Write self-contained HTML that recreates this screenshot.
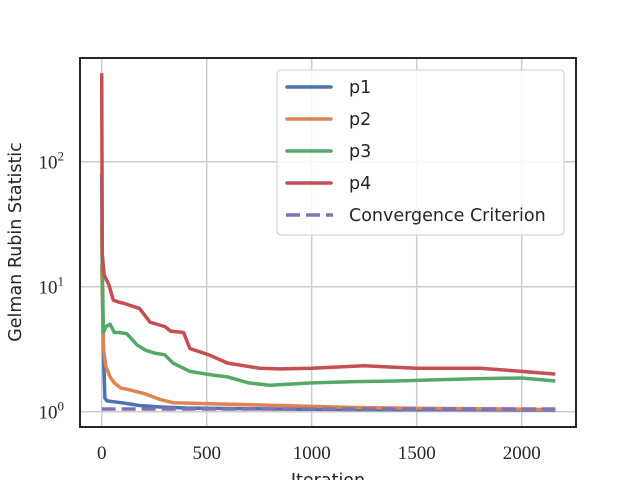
<!DOCTYPE html>
<html><head><meta charset="utf-8"><style>
body{margin:0;background:#fff;}
svg{display:block;}
.tick{font-family:"Liberation Serif",serif;font-size:19px;fill:#262626;}
.leg{font-family:"DejaVu Sans","Liberation Sans",sans-serif;font-size:17.5px;fill:#262626;}
</style></head><body>
<svg width="640" height="480" id="chart"></svg>
<script>
const xTicks=[0,500,1000,1500,2000];
const yTicks=[1,10,100];
const seriesNames=["p1","p2","p3","p4"];
const seriesColors=["#4c72b0","#dd8452","#55a868","#c44e52"];
const p1Iter=[0,3,8,15,25,60,110,180,280,400,600,900,1300,1700,2160];
const p1Vals=[80,10,3.2,1.28,1.22,1.2,1.17,1.12,1.09,1.07,1.06,1.05,1.04,1.04,1.03];
const p2Iter=[0,3,8,20,40,60,90,130,200,280,340,500,850,1200,1600,2000,2160];
const p2Vals=[15,9.7,3.2,2.3,1.9,1.7,1.55,1.5,1.4,1.25,1.18,1.16,1.12,1.08,1.06,1.05,1.04];
const p3Iter=[0,3,8,20,40,60,85,120,170,210,250,300,340,420,500,540,600,700,800,1000,1200,1400,1600,1800,2000,2160];
const p3Vals=[31,14,4.3,4.8,5.0,4.3,4.3,4.2,3.4,3.1,2.95,2.85,2.45,2.1,2.0,1.95,1.9,1.7,1.63,1.7,1.74,1.76,1.8,1.84,1.86,1.76];
const p4Iter=[0,3,12,35,55,85,100,180,230,300,330,390,420,510,600,750,850,1000,1250,1500,1800,2000,2160];
const p4Vals=[510,18,12.4,10.3,7.8,7.5,7.4,6.7,5.2,4.8,4.4,4.3,3.2,2.85,2.45,2.23,2.2,2.23,2.33,2.23,2.23,2.1,2.0];
const critVal=1.05, critMaxIter=2160;

const L=80,R=576,T=58,B=427;
const X=v=>101.7+v*0.21;
const Y=v=>411.7-125*Math.log10(v);
const svg=document.getElementById('chart');
const NS="http://www.w3.org/2000/svg";
function mk(tag,attrs,parent){const e=document.createElementNS(NS,tag);for(const k in attrs)e.setAttribute(k,attrs[k]);(parent||svg).appendChild(e);return e;}

xTicks.forEach(t=>{
  const g=mk('line',{x1:X(t),x2:X(t),y1:T,y2:B,stroke:'#cccccc','stroke-width':1.5});
  
  
  const tx=mk('text',{x:X(t),y:B+32,'text-anchor':'middle',class:'tick'});tx.textContent=t;
  
  
});
yTicks.forEach(t=>{
  const g=mk('line',{x1:L,x2:R,y1:Y(t),y2:Y(t),stroke:'#cccccc','stroke-width':1.5});
  
  
  const tx=mk('text',{x:64,y:Y(t)+7,'text-anchor':'end',class:'tick'});
  tx.textContent='10';
  const sp=mk('tspan',{dy:-8,'font-size':'13px'},tx);sp.textContent=Math.round(Math.log10(t));
  
  
});

const iters=[p1Iter,p2Iter,p3Iter,p4Iter], vals=[p1Vals,p2Vals,p3Vals,p4Vals];
for(let i=0;i<4;i++){
  const d=iters[i].map((t,j)=>(j?'L':'M')+X(t).toFixed(1)+','+Y(vals[i][j]).toFixed(1)).join(' ');
  const p=mk('path',{d:d,fill:'none',stroke:seriesColors[i],'stroke-width':3.5,'stroke-linejoin':'round'});
  
  
}
const c=mk('line',{x1:X(0),x2:X(critMaxIter),y1:Y(critVal),y2:Y(critVal),stroke:'#8172b3','stroke-width':3.5,'stroke-dasharray':'14,6'});



const fr=mk('rect',{x:L,y:T,width:R-L,height:B-T,fill:'none',stroke:'#262626','stroke-width':2});



const lg=mk('g',{});


mk('rect',{x:277,y:70,width:287,height:165,rx:4,fill:'#fff','fill-opacity':0.85,stroke:'#cccccc','stroke-width':1},lg);
const legLabels=["p1","p2","p3","p4","Convergence Criterion"];
const legColors=seriesColors.concat(["#8172b3"]);
legLabels.forEach((n,i)=>{
  const y=87+i*32;
  const ln=mk('line',{x1:i<4?287:286,x2:i<4?331:333,y1:y,y2:y,stroke:legColors[i],'stroke-width':3.5,'stroke-linecap':i<4?'round':'butt'},lg);
  if(i==4)ln.setAttribute('stroke-dasharray','14,6');
  const t=mk('text',{x:349,y:y+6,class:'leg'},lg);t.textContent=n;
  
  
});

const yl=mk('text',{x:0,y:0,class:'leg','text-anchor':'middle',transform:'translate(21,242) rotate(-90)','font-size':'19px'});
yl.textContent='Gelman Rubin Statistic';


const xl=mk('text',{x:328,y:486,class:'leg','text-anchor':'middle','font-size':'19px'});
xl.textContent='Iteration';


</script>
</body></html>
